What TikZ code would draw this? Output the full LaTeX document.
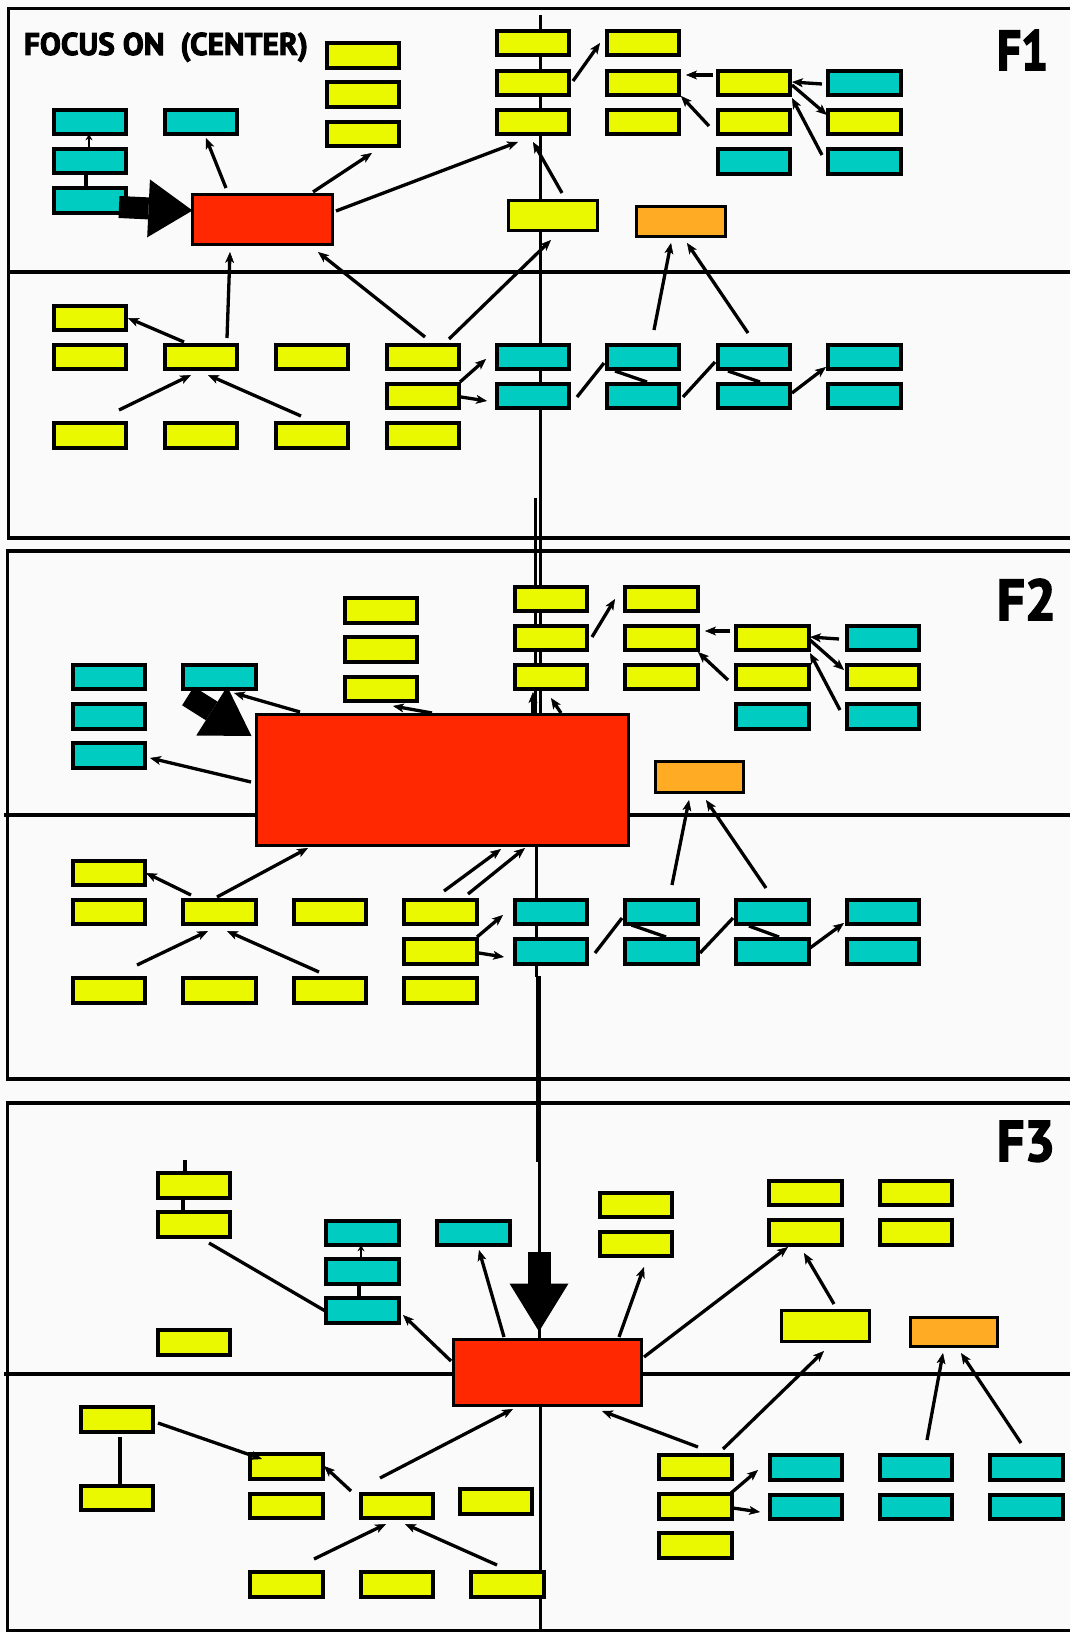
\documentclass[tikz,border=0pt]{standalone}
\usepackage{fontspec}
\setmainfont{PT Sans}
\newfontfamily\ttlfont{PT Sans}[BoldFeatures={FakeBold=3}]
\usetikzlibrary{arrows.meta,calc}
\definecolor{yel}{RGB}{234,248,0}
\definecolor{cya}{RGB}{0,204,194}
\definecolor{redb}{RGB}{255,40,0}
\definecolor{orb}{RGB}{255,172,36}
\definecolor{bgc}{RGB}{250,250,250}
\tikzset{
 bx/.style={draw=black,line width=3.6pt,minimum width=72.5pt,minimum height=24.5pt,inner sep=0pt,outer sep=0pt},
 ybox/.style={bx,fill=yel},
 cbox/.style={bx,fill=cya},
 arr/.style={line width=3.3pt,-{Stealth[length=11pt,width=9pt,inset=3pt,line width=0.5pt]}},
 arrs/.style={line width=2.6pt,-{Stealth[length=6pt,width=7pt,inset=2pt,line width=0.5pt]}},
 lnk/.style={line width=3.3pt},
 panelline/.style={line width=3.6pt},
 centerline/.style={line width=3pt},
 fatarrow/.style={line width=22pt,-{Triangle[length=44pt,width=58pt,line width=0pt]}},
 lbl/.style={anchor=base west,inner sep=0pt,outer sep=0pt}
}
\newcommand\Ybx[3]{\node[ybox] (#1) at (#2,#3) {};}
\newcommand\Cbx[3]{\node[cbox] (#1) at (#2,#3) {};}
\newcommand\myA[4]{\draw[arr] ($(#1)+(#2)$) -- ($(#3)+(#4)$);}
\newcommand\myL[4]{\draw[lnk] ($(#1)+(#2)$) -- ($(#3)+(#4)$);}
\begin{document}
\begin{tikzpicture}[x=1pt,y=-1pt]
\fill[bgc] (0,0) rectangle (1070,1632);
\useasboundingbox (0,0) rectangle (1070,1632);
% panels
\draw[panelline] (1075,8.5) -- (8.5,8.5) -- (8.5,538) -- (1075,538);
\draw[panelline] (8.5,272) -- (1075,272);
\draw[panelline] (1075,551) -- (7.5,551) -- (7.5,1079) -- (1075,1079);
\draw[panelline] (4,815) -- (1075,815);
\draw[panelline] (1075,1103) -- (7.5,1103) -- (7.5,1630.5) -- (1075,1630.5);
\draw[panelline] (4,1374) -- (1075,1374);
% center lines
\coordinate (v1) at (540,15); \coordinate (v2) at (540,713);
\draw[centerline] (v1) -- (v2);
\coordinate (v3) at (535.5,498); \coordinate (v4) at (535.5,713);
\draw[centerline] (v3) -- (v4);
\coordinate (v5) at (536,847); \coordinate (v6) at (536,977);
\draw[centerline] (v5) -- (v6);
\coordinate (v7) at (538.5,976); \coordinate (v8) at (538.5,1162);
\draw[line width=5.5pt] (v7) -- (v8);
\coordinate (v9) at (539,1160); \coordinate (v10) at (539,1340);
\draw[centerline] (v9) -- (v10);
\coordinate (v11) at (540,1407); \coordinate (v12) at (540,1632);
\draw[centerline] (v11) -- (v12);
% labels
\node[lbl] (title) at (24,55) {\resizebox{284pt}{!}{\ttlfont\bfseries FOCUS ON\ \ (CENTER)}};
\node[lbl] (f1) at (997,70) {\resizebox{51pt}{40pt}{\ttlfont\bfseries F1}};
\node[lbl] (f2) at (997,620) {\resizebox{59pt}{41pt}{\ttlfont\bfseries F2}};
\node[lbl] (f3) at (997,1161) {\resizebox{58pt}{40pt}{\ttlfont\bfseries F3}};
% ===== F1 =====
\Cbx{c1a}{90}{122} \Cbx{c1b}{90}{161} \Cbx{c1c}{90}{200.5} \Cbx{c1d}{201}{122}
\Ybx{y1a}{363}{55.5} \Ybx{y1b}{363}{94.5} \Ybx{y1c}{363}{134}
\node[bx,fill=redb,minimum width=140pt,minimum height=50pt] (r1) at (262.5,219.5) {};
\Ybx{a1}{533}{43} \Ybx{a2}{533}{83} \Ybx{a3}{533}{122}
\Ybx{b1}{643}{43} \Ybx{b2}{643}{83} \Ybx{b3}{643}{122}
\Ybx{cc1}{754}{83} \Ybx{cc2}{754}{122} \Cbx{cc3}{754}{161.5}
\Cbx{d1}{864.5}{83} \Ybx{d2}{864.5}{122} \Cbx{d3}{864.5}{161.5}
\node[bx,fill=yel,minimum width=89pt,minimum height=30pt] (e1) at (553,215.5) {};
\node[bx,fill=orb,minimum width=89pt,minimum height=30pt] (o1) at (681,221.5) {};
\Ybx{l0}{90}{318}
\Ybx{l1a}{90}{357} \Ybx{l1b}{201}{357} \Ybx{l1c}{312}{357} \Ybx{l1d}{423}{357}
\Ybx{l2d}{423}{396}
\Ybx{l3a}{90}{435.5} \Ybx{l3b}{201}{435.5} \Ybx{l3c}{312}{435.5} \Ybx{l3d}{423}{435.5}
\Cbx{k1a}{533}{357} \Cbx{k1b}{533}{396}
\Cbx{k2a}{643}{357} \Cbx{k2b}{643}{396}
\Cbx{k3a}{754}{357} \Cbx{k3b}{754}{396}
\Cbx{k4a}{864.5}{357} \Cbx{k4b}{864.5}{396}
% F1 connectors
\myL{c1c.north}{-4,0}{c1b.south}{-4,0}
\draw[arrs] ($(c1b.north)+(-1,0)$) -- ($(c1a.south)+(-1,0)$);
\myA{r1}{-36.5,-31.5}{c1d}{5,16}
\myA{r1}{50.5,-27.5}{y1c}{9,19}
\myA{r1}{73.5,-8.5}{a3}{-15,20}
\myA{l1b}{26,-19}{r1}{-32.5,32.5}
\myA{l1d}{2,-20}{r1}{55.5,32.5}
\myA{l1d}{26,-18}{e1}{-2,24.5}
\myA{e1}{9,-22.5}{a3}{0,20}
\myA{a2}{40,-2}{b1}{-43,0}
\myA{cc1}{-41,-8}{b2}{43,-8}
\myA{cc2}{-45,4}{b2}{38,13}
\myA{d1}{-42.5,1}{cc1}{38,-1}
\myA{cc1}{38,2}{d2}{-37.5,-7}
\myA{d3}{-42.5,-6.5}{cc1}{38,15}
\myA{k2a}{11,-27}{o1}{-10,21.5}
\myA{k3a}{-6,-24}{o1}{6,21.5}
\myA{l1b}{-17,-15}{l0}{38,0}
\myA{l3a}{29,-25.5}{l1b}{-10,18}
\myA{l3c}{-11,-19.5}{l1b}{7,18}
\myA{l2d}{37,-14}{k1a}{-47,2}
\myA{l2d}{38,1}{k1b}{-46,5}
\myL{k1b}{44,1}{k2a}{-39,6}
\myL{k2a}{-28,14}{k2b}{4,-14}
\myL{k2b}{40,1}{k3a}{-39,5}
\myL{k3a}{-26,14}{k3b}{6,-14}
\myA{k3b}{38,-3}{k4a}{-38.5,10}
\coordinate (fa1) at ($(c1c)+(29,6.5)$);
\draw[fatarrow] (fa1) -- ($(r1.west)+(0,-9)$);
% ===== F2 =====
\Cbx{sc1a}{109}{677} \Cbx{sc1b}{109}{716.5} \Cbx{sc1c}{109}{755.5} \Cbx{sc1d}{219.5}{677}
\Ybx{sy1a}{381}{610.5} \Ybx{sy1b}{381}{649.5} \Ybx{sy1c}{381}{689}
\node[bx,fill=redb,minimum width=372pt,minimum height=131pt] (r2) at (442.5,780) {};
\Ybx{sa1}{551}{599} \Ybx{sa2}{551}{638} \Ybx{sa3}{551}{677}
\Ybx{sb1}{661.5}{599} \Ybx{sb2}{661.5}{638} \Ybx{sb3}{661.5}{677}
\Ybx{scc1}{772.5}{638} \Ybx{scc2}{772.5}{677} \Cbx{scc3}{772.5}{716.5}
\Cbx{sd1}{883}{638} \Ybx{sd2}{883}{677} \Cbx{sd3}{883}{716.5}
\node[bx,fill=orb,minimum width=88pt,minimum height=31pt] (o2) at (699.5,777) {};
\Ybx{sl0}{109}{873}
\Ybx{sl1a}{109}{912} \Ybx{sl1b}{219.5}{912} \Ybx{sl1c}{330}{912} \Ybx{sl1d}{440.5}{912}
\Ybx{sl2d}{440.5}{951.5}
\Ybx{sl3a}{109}{990.5} \Ybx{sl3b}{219.5}{990.5} \Ybx{sl3c}{330}{990.5} \Ybx{sl3d}{440.5}{990.5}
\Cbx{sk1a}{551}{912} \Cbx{sk1b}{551}{951.5}
\Cbx{sk2a}{661.5}{912} \Cbx{sk2b}{661.5}{951.5}
\Cbx{sk3a}{772.5}{912} \Cbx{sk3b}{772.5}{951.5}
\Cbx{sk4a}{883}{912} \Cbx{sk4b}{883}{951.5}
% F2 connectors
\myA{r2}{-142.5,-68}{sc1d}{14.5,16}
\myA{r2}{-10.5,-67}{sy1c}{12,17}
\myA{r2}{-191.5,2}{sc1c}{41,2.5}
\myA{r2}{90.5,-67}{sa3}{-18,15}
\myA{r2}{118.5,-67}{sa3}{0,21}
\myA{sa2}{41,-1}{sb1}{-46.5,0}
\myA{scc1}{-42.5,-7}{sb2}{43.5,-7}
\myA{scc2}{-44.5,3}{sb2}{36.5,14}
\myA{sd1}{-44,1}{scc1}{37.5,-1}
\myA{scc1}{37.5,2}{sd2}{-39,-7}
\myA{sd3}{-43,-6.5}{scc1}{37.5,15}
\myA{sk2a}{10.5,-27}{o2}{-10.5,23}
\myA{sk3a}{-6.5,-24}{o2}{6.5,23}
\myA{sl1b}{-28.5,-17}{sl0}{37,0}
\myA{sl1b}{-2.5,-15}{r2}{-134.5,68}
\myA{sl3a}{28,-25.5}{sl1b}{-11.5,19}
\myA{sl3c}{-11,-18.5}{sl1b}{7.5,19}
\myA{sl1d}{3.5,-21}{r2}{58.5,69}
\myA{sl1d}{27.5,-18}{r2}{82.5,68}
\myA{sl2d}{36.5,-14.5}{sk1a}{-48,3}
\myA{sl2d}{38.5,1.5}{sk1b}{-47,5.5}
\myL{sk1b}{44,1.5}{sk2a}{-39.5,6}
\myL{sk2a}{-30,13}{sk2b}{4.5,-14.5}
\myL{sk2b}{38.5,1.5}{sk3a}{-39.5,6}
\myL{sk3a}{-23.5,14}{sk3b}{6.5,-14.5}
\myA{sk3b}{37.5,-3.5}{sk4a}{-39,11}
\draw[fatarrow,-{Triangle[length=47pt,width=58pt,line width=0pt]}] ($(sc1d)+(-31.5,19)$) -- ($(r2)+(-191,-44)$);
% ===== F3 =====
\Ybx{ys1}{194}{1185.5} \Ybx{ys2}{194}{1224.5} \Ybx{ys3}{194}{1342.5}
\Cbx{cs1}{362.5}{1233} \Cbx{cs2}{362.5}{1271.5} \Cbx{cs3}{362.5}{1310.5} \Cbx{cs4}{473.5}{1233}
\node[bx,fill=redb,minimum width=188pt,minimum height=66pt] (r3) at (547.5,1372.5) {};
\Ybx{yt1}{636}{1205} \Ybx{yt2}{636}{1244}
\Ybx{p1}{805.5}{1193} \Ybx{p2}{805.5}{1232.5}
\Ybx{q1}{916}{1193} \Ybx{q2}{916}{1232.5}
\node[bx,fill=yel,minimum width=88pt,minimum height=31pt] (fb) at (825.5,1326) {};
\node[bx,fill=orb,minimum width=87pt,minimum height=29pt] (o3) at (954,1332) {};
\Ybx{g1}{117}{1419.5} \Ybx{g2}{117}{1498}
\Ybx{h1}{286.5}{1466.5} \Ybx{h2}{286.5}{1506}
\Ybx{kk}{397}{1506}
\Ybx{mm}{496}{1501.5}
\Ybx{bt1}{286.5}{1584.5} \Ybx{bt2}{397}{1584.5} \Ybx{bt3}{507.5}{1584.5}
\Ybx{n1}{695.5}{1467} \Ybx{n2}{695.5}{1506.5} \Ybx{n3}{695.5}{1545.5}
\Cbx{u1a}{806}{1467.5} \Cbx{u1b}{806}{1507}
\Cbx{u2a}{916}{1467.5} \Cbx{u2b}{916}{1507}
\Cbx{u3a}{1026.5}{1467.5} \Cbx{u3b}{1026.5}{1507}
% F3 connectors
\coordinate (ytop) at (185,1160);
\draw[lnk] (ytop) -- ($(ys1.north)+(-9,0)$);
\myL{ys2.north}{-11,0}{ys1.south}{-11,0}
\myL{ys2}{15,18.5}{cs3}{-35.5,1.5}
\draw[arrs] ($(cs2.north)+(-1.5,0)$) -- ($(cs1.south)+(-1.5,0)$);
\myL{cs3.north}{-3.5,0}{cs2.south}{-3.5,0}
\myA{r3}{-96.5,-11.5}{cs3}{40.5,4.5}
\myA{r3}{-43.5,-35.5}{cs4}{5.5,17}
\myA{r3}{71.5,-35.5}{yt2}{8,23}
\myA{r3}{96.5,-15.5}{p2}{-17.5,14.5}
\myA{fb}{8.5,-22}{p2}{-1.5,20.5}
\myA{n1}{27.5,-18}{fb}{-1.5,25}
\myA{n1}{2.5,-20}{r3}{54.5,38.5}
\myA{u2a}{11,-27.5}{o3}{-11,21}
\myA{u3a}{-5.5,-24.5}{o3}{7,21}
\myA{n2}{35.5,-13.5}{u1a}{-48,2.5}
\myA{n2}{37.5,1.5}{u1b}{-46,5}
\myL{g1.south}{3,5}{g2.north}{3,-2}
\myA{g1}{41,3.5}{h1}{-24.5,-7.5}
\myA{kk}{-46,-15}{h1}{37.5,-0.5}
\myA{kk}{-17,-28}{r3}{-34.5,36.5}
\myA{bt1}{27.5,-25.5}{kk}{-11,18}
\myA{bt3}{-10.5,-19.5}{kk}{8,18}
\coordinate (fa3) at (539,1252);
\draw[line width=23pt,-{Triangle[length=48pt,width=59pt,line width=0pt]}] (fa3) -- ($(r3.north)+(-8.5,-8)$);
\end{tikzpicture}
\end{document}
